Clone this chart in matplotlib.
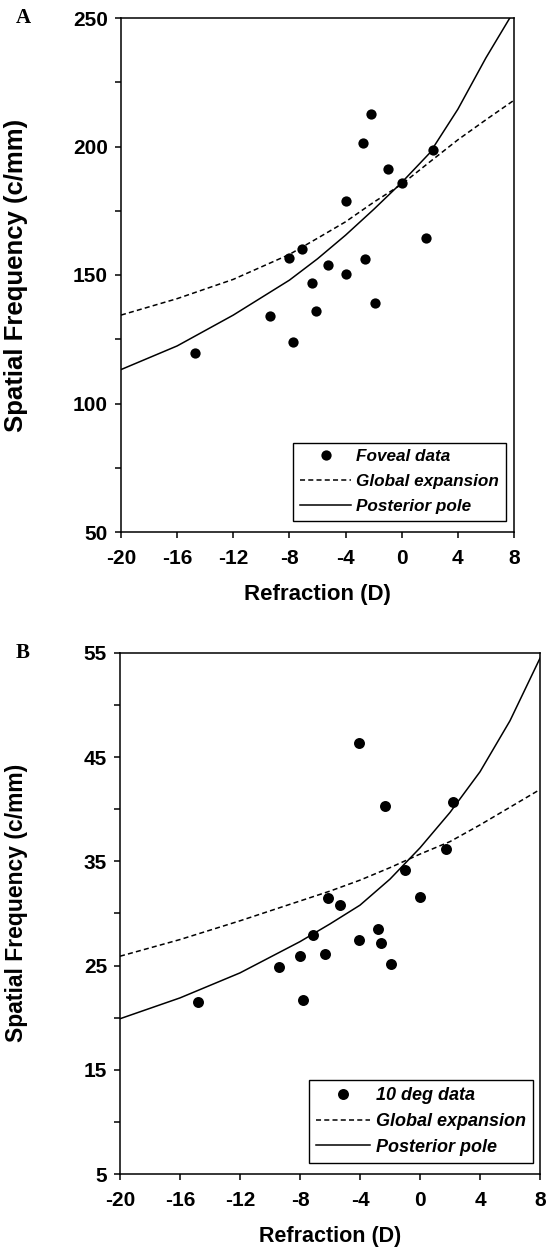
"""Spatial frequency vs refraction for foveal and 10 deg data, with two eye growth models."""

import matplotlib

matplotlib.use("Agg")
import matplotlib.pyplot as plt
from matplotlib.ticker import MultipleLocator

plt.rcParams["axes.unicode_minus"] = False

# Panel A: foveal data
foveal_refraction = [-14.75, -9.4, -7.75, -8.0, -7.1, -6.4, -6.1, -5.25, -4.0, -4.0,
                     -2.65, -1.9, -2.75, -2.2, -1.0, 0.0, 1.75, 2.25]
foveal_sf = [119.8, 134.0, 123.9, 156.8, 160.3, 146.7, 136.1, 153.7, 150.3, 178.7,
             156.4, 139.2, 201.2, 212.5, 191.2, 185.7, 164.3, 198.7]

# Panel B: 10 deg data
periph_refraction = [-14.8, -9.4, -7.8, -8.0, -7.15, -6.35, -6.15, -5.3, -4.05, -4.05,
                     -2.8, -2.6, -1.9, -2.3, -1.0, 0.0, 1.75, 2.2]
periph_sf = [21.5, 24.9, 21.7, 25.9, 27.9, 26.1, 31.5, 30.8, 46.4, 27.5,
             28.5, 27.2, 25.2, 40.3, 34.2, 31.6, 36.2, 40.7]

# Model curves
curve_refraction = [-20, -16, -12, -8, -6, -4, -2, 0, 2, 4, 6, 8]
foveal_global = [134.4, 140.8, 148.3, 158.0, 164.3, 170.7, 178.3, 185.3, 194.0, 202.6, 210.4, 218.0]
foveal_pole_refraction = [-20, -16, -12, -8, -6, -4, -2, 0, 2, 4, 6, 7.7]
foveal_pole = [113.2, 122.4, 134.4, 148.0, 156.3, 165.5, 175.5, 186.0, 197.5, 214.5, 234.5, 250.0]
periph_global = [25.9, 27.5, 29.3, 31.2, 32.15, 33.2, 34.4, 35.7, 36.9, 38.5, 40.2, 41.9]
periph_pole = [19.9, 21.9, 24.3, 27.3, 29.0, 30.8, 33.3, 36.3, 39.7, 43.6, 48.5, 54.5]

FIG_W, FIG_H = 549, 1251
SANS = "Liberation Sans"


def px_rect(left, top, right, bottom):
  return [left / FIG_W, 1 - bottom / FIG_H, (right - left) / FIG_W, (bottom - top) / FIG_H]


def draw_panel(fig, box, letter, data_x, data_y, data_label, global_x, global_y,
               pole_x, pole_y, ylim, ystep, legend_gap, legend_size, legend_spacing,
               marker_size, xlabel_size, ylabel_size, ylabel_pos):
  left, top, right, bottom = box
  width, height = right - left, bottom - top
  axis = fig.add_axes(px_rect(*box))
  axis.plot(global_x, global_y, color="black", lw=1.1, ls=(0, (3.3, 2.1)), label="Global expansion", zorder=2)
  axis.plot(pole_x, pole_y, color="black", lw=1.1, ls="-", label="Posterior pole", zorder=2)
  axis.plot(data_x, data_y, "o", color="black", ms=marker_size, mew=0, label=data_label, zorder=3)

  axis.set_xlim(-20, 8)
  axis.set_ylim(*ylim)
  axis.xaxis.set_major_locator(MultipleLocator(4))
  axis.yaxis.set_major_locator(MultipleLocator(ystep * 2, offset=ylim[0] % (ystep * 2)))
  axis.yaxis.set_minor_locator(MultipleLocator(ystep))
  axis.tick_params(which="both", direction="out", length=4.3, width=1.1, color="black")
  axis.tick_params(axis="x", which="major", labelsize=15, pad=8)
  axis.tick_params(axis="y", which="major", labelsize=15, pad=5)
  for label in axis.get_xticklabels() + axis.get_yticklabels():
    label.set_fontfamily(SANS)
    label.set_fontweight("bold")
  for spine in axis.spines.values():
    spine.set_linewidth(1.1)

  axis.set_xlabel("Refraction (D)", fontfamily=SANS, fontweight="bold", fontsize=xlabel_size)
  axis.xaxis.set_label_coords(0.5, -52 / height)
  axis.set_ylabel("Spatial Frequency (c/mm)", fontfamily=SANS, fontweight="bold", fontsize=ylabel_size)
  axis.yaxis.set_label_coords(-(left - 28) / width, ylabel_pos)
  fig.text(23 / FIG_W, 1 - top / FIG_H, letter, fontfamily="Liberation Serif",
           fontweight="bold", fontsize=15, va="center", ha="center")

  handles, labels = axis.get_legend_handles_labels()
  order = [2, 0, 1]
  legend = axis.legend(
    [handles[i] for i in order],
    [labels[i] for i in order],
    loc="lower right",
    bbox_to_anchor=(1 - legend_gap[0] / width, legend_gap[1] / height),
    borderaxespad=0,
    frameon=True,
    fancybox=False,
    edgecolor="black",
    framealpha=1,
    handlelength=3.0,
    handletextpad=0.3,
    labelspacing=legend_spacing,
    borderpad=0.4,
    prop={"family": SANS, "weight": "bold", "style": "italic", "size": legend_size},
  )
  legend.get_frame().set_linewidth(1.0)
  return axis


def main():
  fig = plt.figure(figsize=(FIG_W / 100, FIG_H / 100), dpi=100)

  draw_panel(fig, (121, 18, 514, 532), "A", foveal_refraction, foveal_sf, "Foveal data",
             curve_refraction, foveal_global, foveal_pole_refraction, foveal_pole,
             (50, 250), 25, (8, 11), 12.3, 0.58, 7.4, 16, 18.5, 0.5)
  draw_panel(fig, (120, 653, 540, 1174), "B", periph_refraction, periph_sf, "10 deg data",
             curve_refraction, periph_global, curve_refraction, periph_pole,
             (5, 55), 5, (7, 11), 13, 0.48, 7.9, 15.5, 16.5, 0.52)

  fig.savefig("out.png", dpi=100)
  plt.close(fig)


if __name__ == "__main__":
  main()
